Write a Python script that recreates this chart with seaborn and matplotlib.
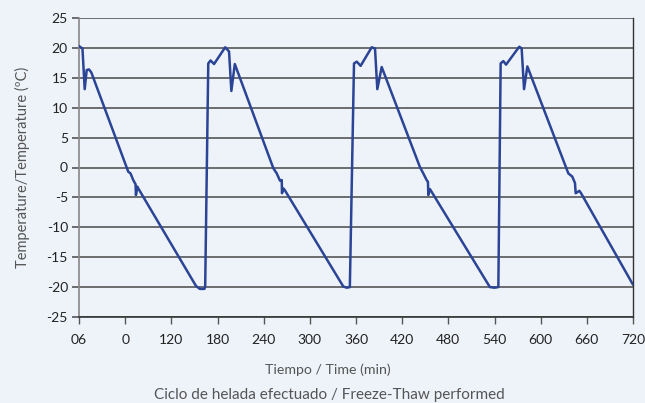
import matplotlib
matplotlib.use("Agg")
import matplotlib.pyplot as plt
import seaborn as sns
import numpy as np
import pandas as pd

# Data
time_min = [0, 4.5, 7.4, 10, 13, 16, 64, 67, 70.5, 73.5, 74, 75.8, 77.5, 152, 157, 163, 164,
            168, 171, 175.5, 190, 195, 198, 202.5, 252.5, 257, 261.2, 263.5, 263.8, 265.5, 267.5,
            343.5, 348, 352, 357.4, 361, 366, 380.4, 384.7, 387.7, 393.4, 443, 447.5, 451.8,
            453.5, 454, 456, 457.5, 534, 540, 545, 548, 551.5, 555, 572.2, 575.3, 578.4, 582.7,
            636, 641, 644.6, 645.5, 650.3, 652.5, 720]
temp_c = [20.3, 19.9, 13.1, 16.3, 16.4, 15.9, -0.7, -1.0, -2.1, -2.8, -4.6, -3.2, -3.6, -19.8,
          -20.3, -20.3, -19.9, 17.4, 17.9, 17.3, 20.1, 19.4, 12.8, 17.3, -0.1, -1.0, -2.2, -2.1,
          -4.3, -3.5, -3.8, -19.9, -20.1, -20.0, 17.4, 17.7, 17.0, 20.1, 19.9, 13.1, 16.8, 0.1,
          -1.0, -2.1, -2.4, -4.6, -3.6, -3.9, -20.0, -20.1, -20.0, 17.4, 17.8, 17.2, 20.2, 19.9,
          13.1, 16.9, -1.0, -1.5, -2.6, -4.3, -3.9, -4.3, -19.6]
x_ticks = [0, 60, 120, 180, 240, 300, 360, 420, 480, 540, 600, 660, 720]
x_tick_labels = ["06", "0", "120", "180", "240", "300", "360", "420", "480", "540", "600", "660", "720"]
y_ticks = [-25, -20, -15, -10, -5, 0, 5, 10, 15, 20, 25]

sns.set_theme(style="white")
plt.rcParams["font.family"] = ["Lato", "DejaVu Sans"]

bg = "#eef3f9"
fig = plt.figure(figsize=(6.45, 4.03), dpi=100, facecolor=bg)
ax = fig.add_axes([79/645, 1-317/403, (633-79)/645, (317-18)/403])
ax.set_facecolor("none")

df = pd.DataFrame({"t": time_min, "T": temp_c})
sns.lineplot(data=df, x="t", y="T", sort=False, estimator=None, color="#2b4496",
             linewidth=1.8, ax=ax, zorder=3)

ax.set_xlim(0, 720)
ax.set_ylim(-25, 25)
ax.set_xticks(x_ticks)
ax.set_xticklabels(x_tick_labels)
ax.set_yticks(y_ticks)
ax.set_yticklabels([str(v) for v in y_ticks])

for v in y_ticks:
    ax.axhline(v, color="#555555", linewidth=1.2, zorder=1)

ax.tick_params(axis="x", direction="out", length=5, width=1, color="#555555",
               labelsize=10, labelcolor="#222222", pad=7)
ax.tick_params(axis="y", direction="out", length=5, width=1.2, color="#555555",
               labelsize=10, labelcolor="#222222", pad=3)
ax.tick_params(bottom=True, left=True)

ax.spines["top"].set_visible(False)
ax.spines["left"].set_color("#888888")
ax.spines["left"].set_linewidth(1.2)
ax.spines["bottom"].set_color("#333333")
ax.spines["bottom"].set_linewidth(1.2)
ax.spines["right"].set_color("#333333")
ax.spines["right"].set_linewidth(1.0)

ax.set_xlabel("")
ax.set_ylabel("Temperature/Temperature (ºC)", fontsize=10.5, color="#555555",
              labelpad=12)

fig.text(328/645, 1-370/403, "Tiempo / Time (min)", ha="center", va="center",
         fontsize=10.2, color="#555555")
fig.text(329/645, 1-395/403, "Ciclo de helada efectuado / Freeze-Thaw performed",
         ha="center", va="center", fontsize=11, color="#555555")

fig.savefig("out.png", dpi=100, facecolor=bg)
